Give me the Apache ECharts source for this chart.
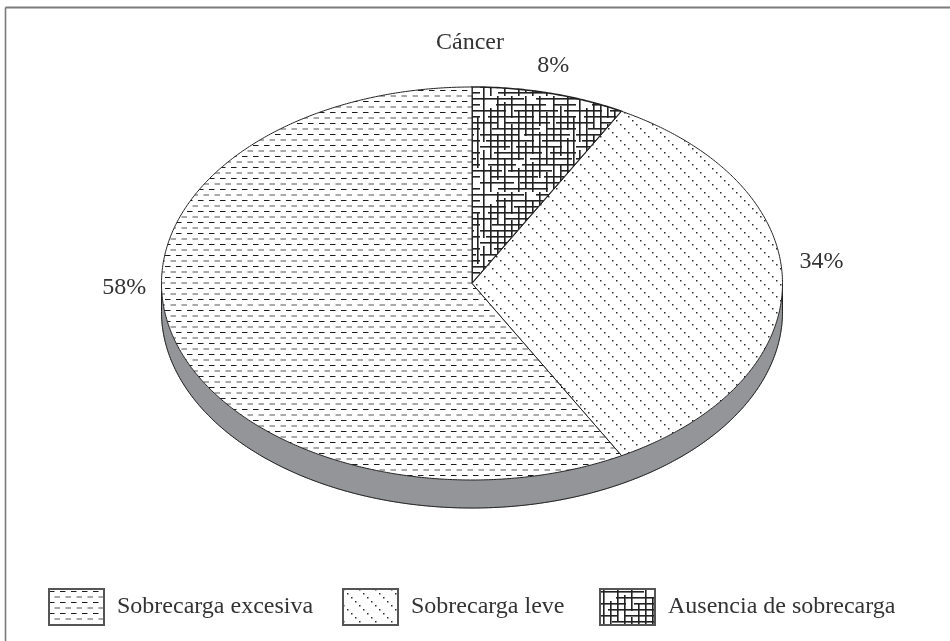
<!DOCTYPE html>
<html>
<head>
<meta charset="utf-8">
<style>html,body{margin:0;padding:0;background:#fff}#main{width:950px;height:641px}</style>
<script src="https://cdn.jsdelivr.net/npm/echarts@6/dist/echarts.min.js"></script>
</head>
<body>
<div id="main"></div>
<script>
// Burden levels among caregivers of cancer patients
const chartTitle = 'Cáncer';
const categories = ['Ausencia de sobrecarga', 'Sobrecarga leve', 'Sobrecarga excesiva'];
const shares = [8, 34, 58];
const legendOrder = [2, 1, 0];

// Disc geometry: an ellipse viewed in perspective plus a rim below it
const disc = { cx: 472, cy: 283.5, rx: 310.5, ry: 196.5, depth: 28 };
const labelOffsets = [[4, -27], [39, -22], [-47, -45]];
const legendLefts = [48, 342, 599];
const ink = '#333335';

function tile(size, draw) {
  const c = document.createElement('canvas');
  c.width = c.height = size;
  draw(c.getContext('2d'));
  return { image: c, repeat: 'repeat' };
}

// Staggered dashes
const dashFill = tile(11, g => {
  g.fillStyle = '#fff'; g.fillRect(0, 0, 11, 11);
  g.fillStyle = '#1c1c1c'; g.fillRect(0, 2, 5.5, 1);
  g.fillStyle = '#555'; g.fillRect(5.5, 7.5, 5.5, 1);
});

// Diagonal rows of dots
const dotFill = tile(16, g => {
  g.fillStyle = '#fff'; g.fillRect(0, 0, 16, 16);
  g.fillStyle = '#2e2e2e';
  for (let i = 0; i < 4; i++) g.fillRect(i * 4, i * 4, 1.5, 1.5);
});

// Broken lattice of long crossing strokes
const latticeH = [[2,0,44],[2,56,96],[8,16,66],[8,74,96],[14,0,26],[14,34,78],[14,84,96],[20,8,54],[20,60,96],
  [26,0,18],[26,24,70],[26,76,96],[32,12,60],[32,66,96],[38,0,38],[38,44,90],[44,6,54],[44,62,96],[50,0,30],
  [50,36,82],[56,14,62],[56,70,96],[62,0,44],[62,50,92],[68,8,36],[68,42,96],[74,0,22],[74,28,72],[74,80,96],
  [80,10,58],[80,64,96],[86,0,34],[86,40,88],[92,18,68],[92,76,96]];
const latticeV = [[3,0,46],[3,54,96],[10,12,62],[10,70,96],[17,0,32],[17,38,84],[24,6,54],[24,62,96],[31,0,22],
  [31,28,76],[38,14,64],[38,72,96],[45,0,40],[45,46,92],[52,8,58],[52,66,96],[59,0,30],[59,36,82],[66,16,68],
  [66,76,96],[73,0,44],[73,50,94],[80,10,60],[80,68,96],[87,0,34],[87,42,88],[93,20,72]];
const latticeFill = tile(96, g => {
  g.fillStyle = '#fff'; g.fillRect(0, 0, 96, 96);
  g.fillStyle = '#222';
  latticeH.forEach(([y, a, b]) => g.fillRect(a, y, b - a, 1.6));
  latticeV.forEach(([x, a, b]) => g.fillRect(x, a, 1.6, b - a));
});
const fills = [latticeFill, dotFill, dashFill];

function pointAt(t, dy) {
  return [disc.cx + disc.rx * Math.sin(t), disc.cy + dy - disc.ry * Math.cos(t)];
}
function arc(from, to, dy) {
  const n = Math.max(2, Math.ceil((to - from) * 120));
  const pts = [];
  for (let i = 0; i <= n; i++) pts.push(pointAt(from + (to - from) * i / n, dy));
  return pts;
}

const total = shares.reduce((a, b) => a + b, 0);
let running = 0;
const series = shares.map((v, i) => {
  const start = running / total * Math.PI * 2;
  running += v;
  const end = running / total * Math.PI * 2;
  return {
    type: 'custom',
    name: categories[i],
    coordinateSystem: 'none',
    silent: true,
    data: [v],
    itemStyle: { color: fills[i], borderColor: '#555', borderWidth: 1 },
    renderItem: () => {
      const children = [];
      // Rim: only the front half of the disc shows its edge
      const a = Math.max(start, Math.PI / 2), b = Math.min(end, Math.PI * 1.5);
      if (b > a) {
        children.push({
          type: 'polygon',
          z2: -2,
          shape: { points: arc(a, b, 0).concat(arc(a, b, disc.depth).reverse()) },
          style: { fill: '#939598', stroke: '#939598', lineWidth: 1 }
        });
        // Outline the rim without a seam between neighbouring slices
        const edge = arc(a, b, disc.depth);
        if (a === Math.PI / 2) edge.unshift(pointAt(a, 0));
        if (b === Math.PI * 1.5) edge.push(pointAt(b, 0));
        children.push({
          type: 'polyline',
          z2: -1,
          shape: { points: edge },
          style: { fill: null, stroke: '#222', lineWidth: 1 }
        });
      }
      // Top face of the slice
      children.push({
        type: 'polygon',
        shape: { points: [[disc.cx, disc.cy]].concat(arc(start, end, 0)) },
        style: { fill: fills[i], stroke: '#222', lineWidth: i === 0 ? 1.6 : 1 }
      });
      const mid = pointAt((start + end) / 2, 0);
      children.push({
        type: 'text',
        x: mid[0] + labelOffsets[i][0],
        y: mid[1] + labelOffsets[i][1],
        style: {
          text: v + '%', fill: ink, align: 'center', verticalAlign: 'middle',
          font: '24px "Liberation Serif", serif'
        }
      });
      return { type: 'group', children };
    }
  };
});

const legends = legendOrder.map((idx, k) => ({
  data: [categories[idx]],
  left: legendLefts[k],
  top: 588,
  padding: 0,
  itemWidth: 55,
  itemHeight: 36,
  itemGap: 0,
  icon: 'rect',
  selectedMode: false,
  textStyle: { fontFamily: 'Liberation Serif', fontSize: 24, color: ink, padding: [0, 0, 0, 8] }
}));

const chart = echarts.init(document.getElementById('main'), null, { renderer: 'canvas' });
chart.setOption({
  animation: false,
  backgroundColor: '#fff',
  title: {
    text: chartTitle,
    left: 470,
    top: 31,
    padding: 0,
    textAlign: 'center',
    textStyle: { fontFamily: 'Liberation Serif', fontSize: 24, fontWeight: 'normal', color: ink }
  },
  legend: legends,
  series,
  graphic: [
    { type: 'line', silent: true, shape: { x1: 5.5, y1: 7.5, x2: 950, y2: 7.5 }, style: { stroke: '#7b7b7b', lineWidth: 2 } },
    { type: 'line', silent: true, shape: { x1: 5.5, y1: 7.5, x2: 5.5, y2: 641 }, style: { stroke: '#7b7b7b', lineWidth: 1.6 } }
  ]
});
</script>
</body>
</html>
